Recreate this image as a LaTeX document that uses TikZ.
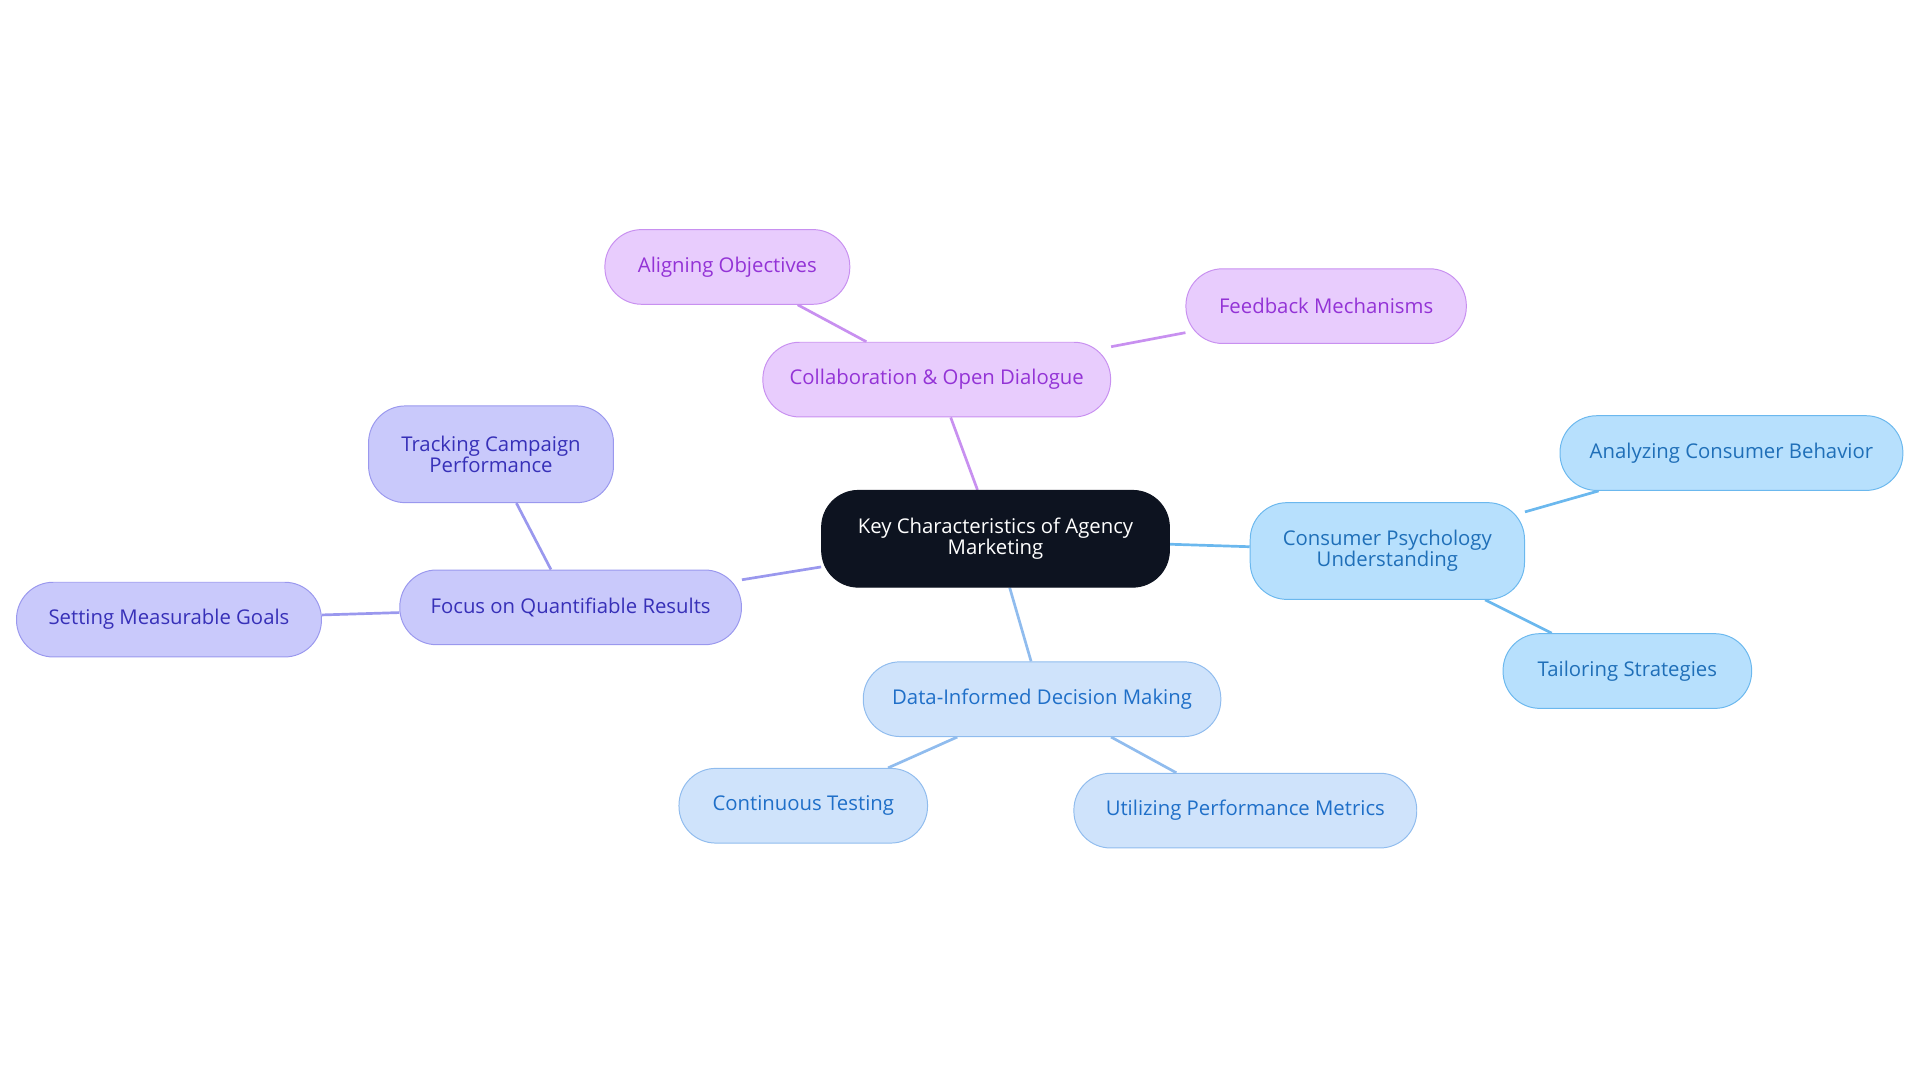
\documentclass[tikz,border=0pt]{standalone}
\usepackage{fontspec}
\setmainfont{Open Sans}
\usetikzlibrary{backgrounds}
\definecolor{pf}{HTML}{E8CCFD}\definecolor{pd}{HTML}{C890F0}\definecolor{pt}{HTML}{9333D6}
\definecolor{bf}{HTML}{B7E0FD}\definecolor{bd}{HTML}{6BB8EE}\definecolor{bt}{HTML}{1F6FB8}
\definecolor{df}{HTML}{CFE3FB}\definecolor{dd}{HTML}{90BCEE}\definecolor{dt}{HTML}{1F6FC8}
\definecolor{ixf}{HTML}{C9C9FB}\definecolor{ixd}{HTML}{9A98EE}\definecolor{ixt}{HTML}{3730B8}
\definecolor{cf}{HTML}{0D1320}
\tikzset{box/.style={rounded corners=15pt,minimum height=30.5pt,align=center,inner sep=2pt,font=\fontsize{8.3}{8.6}\selectfont},
 pbox/.style={box,fill=pf,draw=pd,text=pt},
 bbox/.style={box,fill=bf,draw=bd,text=bt},
 dbox/.style={box,fill=df,draw=dd,text=dt},
 ibox/.style={box,fill=ixf,draw=ixd,text=ixt},
 edge/.style={line width=1.1pt}}
\begin{document}
\begin{tikzpicture}[x=0.5pt,y=-0.5pt]
\useasboundingbox (0,0) rectangle (1568,884);
\node[box,fill=cf,draw=cf,text=white,minimum width=142pt,minimum height=39.5pt] (c) at (813,440) {Key Characteristics of Agency\\Marketing};
\node[pbox,minimum width=142pt] (col) at (765,310) {Collaboration \& Open Dialogue};
\node[pbox,minimum width=100pt] (ali) at (594,218) {Aligning Objectives};
\node[pbox,minimum width=114.5pt] (fee) at (1083,250) {Feedback Mechanisms};
\node[bbox,minimum width=112pt,minimum height=39.5pt] (con) at (1133,450) {Consumer Psychology\\Understanding};
\node[bbox,minimum width=140pt] (ana) at (1414,370) {Analyzing Consumer Behavior};
\node[bbox,minimum width=101.5pt] (tai) at (1329,548) {Tailoring Strategies};
\node[dbox,minimum width=146pt] (dat) at (851,571) {Data-Informed Decision Making};
\node[dbox,minimum width=101.5pt] (cnt) at (656,658) {Continuous Testing};
\node[dbox,minimum width=140pt] (uti) at (1017,662) {Utilizing Performance Metrics};
\node[ibox,minimum width=139.5pt] (foc) at (466,496) {Focus on Quantifiable Results};
\node[ibox,minimum width=100pt,minimum height=39.5pt] (tra) at (401,371) {Tracking Campaign\\Performance};
\node[ibox,minimum width=124.5pt] (set) at (138,506) {Setting Measurable Goals};
\begin{scope}[on background layer]
\draw[edge,pd] (c)--(col) (col)--(ali) (col)--(fee);
\draw[edge,bd] (c)--(con) (con)--(ana) (con)--(tai);
\draw[edge,dd] (c)--(dat) (dat)--(cnt) (dat)--(uti);
\draw[edge,ixd] (c)--(foc) (foc)--(tra) (foc)--(set);
\end{scope}
\end{tikzpicture}
\end{document}
